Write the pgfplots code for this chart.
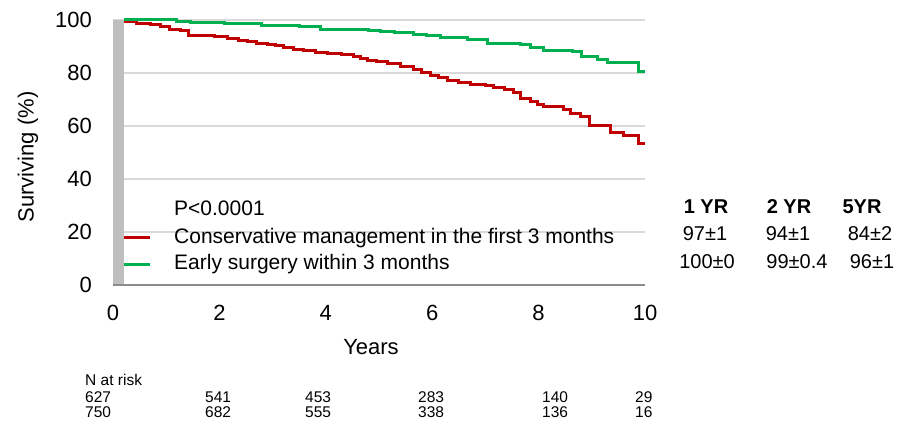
\documentclass[border=0pt]{standalone}
\usepackage{pgfplots}
\pgfplotsset{compat=1.18}
\usepackage{fontspec}
\setmainfont{Liberation Sans}
\definecolor{cRed}{HTML}{C00000}
\definecolor{cGreen}{HTML}{00B050}
\definecolor{gridGray}{HTML}{D9D9D9}
\definecolor{barGray}{HTML}{BFBFBF}
\definecolor{axGray}{HTML}{8C8C8C}
\newcommand{\fs}[1]{\fontsize{#1}{#1}\selectfont}
\begin{document}
\begin{tikzpicture}
\path[use as bounding box] (-113bp,-139bp) rectangle (788bp,285bp);
\begin{axis}[
  at={(0,0)}, anchor=south west,
  scale only axis, width=532bp, height=265bp,
  xmin=0, xmax=10, ymin=0, ymax=100,
  xtick={0,2,4,6,8,10}, ytick={0,20,40,60,80,100},
  major tick length=0pt,
  axis line style={draw=none},
  ymajorgrids, grid style={gridGray, line width=1.5bp},
  /pgf/number format/assume math mode=true,
  ticklabel style={font=\fs{22bp}, inner sep=0pt},
  xticklabel style={anchor=north, yshift=-20bp},
  yticklabel style={anchor=east, xshift=-21bp},
  clip=false,
]
\fill[barGray] (axis cs:0,0) rectangle (axis cs:0.21,100);
\draw[axGray, line width=1.5bp] (axis cs:0,0) -- (axis cs:10,0);
\addplot[const plot, cRed, line width=3bp] coordinates {
(0.21,99.4) (0.45,98.8) (0.7,98.2) (0.9,97.7) (1.07,96.6) (1.26,95.9) (1.41,94.3)
(1.9,93.8) (2.15,93.1) (2.35,92.4) (2.52,91.8) (2.7,91.3) (2.9,90.8) (3.05,90.2)
(3.2,89.7) (3.4,89.0) (3.58,88.4) (3.8,87.9) (4.03,87.4) (4.3,86.9) (4.52,86.4)
(4.65,85.6) (4.78,84.8) (4.95,84.2) (5.16,83.6) (5.4,82.5) (5.65,81.3) (5.8,80.2)
(5.97,79.2) (6.12,78.2) (6.29,77.3) (6.5,76.5) (6.72,75.8) (7.0,75.2) (7.16,74.7)
(7.35,73.8) (7.53,72.8) (7.66,70.3) (7.85,69.4) (7.98,68.3) (8.1,67.2) (8.47,66.2)
(8.6,64.6) (8.79,63.4) (8.95,60.2) (9.36,57.7) (9.6,56.4) (9.87,53.3) (10.0,53.3)
};
\addplot[const plot, cGreen, line width=3bp] coordinates {
(0.21,100) (1.2,99.6) (1.45,99.1) (2.1,98.6) (2.8,98.1) (3.5,97.5) (3.9,96.4)
(4.8,95.9) (5.03,95.6) (5.3,95.2) (5.65,94.7) (5.9,94.0) (6.15,93.4) (6.66,92.7)
(7.04,91.2) (7.66,90.8) (7.85,89.7) (8.1,88.6) (8.64,88.3) (8.8,86.4) (9.11,85.1)
(9.3,83.8) (9.87,80.4) (10.0,80.4)
};
\end{axis}
% axis titles
\node[rotate=90, font=\fs{22bp}] at (-85bp,128bp) {Surviving (\%)};
\node[font=\fs{22bp}] at (258bp,-62bp) {Years};
% legend
\draw[gridGray, line width=1.5bp] (11bp,53.3bp) -- (50bp,53.3bp);
\draw[cRed, line width=2.8bp] (11bp,47.3bp) -- (37bp,47.3bp);
\draw[cGreen, line width=2.8bp] (11bp,20.7bp) -- (37bp,20.7bp);
\node[anchor=west, inner sep=0pt, font=\fs{21bp}] at (61bp,77bp) {P<0.0001};
\node[anchor=west, inner sep=0pt, font=\fs{21bp}] at (61bp,47bp) {Conservative management in the first 3 months};
\node[anchor=west, inner sep=0pt, font=\fs{21bp}] at (61bp,21bp) {Early surgery within 3 months};
% survival table
\node[font=\fs{20bp}\bfseries] at (593bp,78bp) {1 YR};
\node[font=\fs{20bp}\bfseries] at (676bp,78bp) {2 YR};
\node[font=\fs{20bp}\bfseries] at (749bp,78bp) {5YR};
\node[font=\fs{20bp}] at (592bp,51bp) {97±1};
\node[font=\fs{20bp}] at (675bp,51bp) {94±1};
\node[font=\fs{20bp}] at (757bp,51bp) {84±2};
\node[font=\fs{20bp}] at (594bp,23bp) {100±0};
\node[font=\fs{20bp}] at (684bp,23bp) {99±0.4};
\node[font=\fs{20bp}] at (759bp,23bp) {96±1};
% N at risk
\node[anchor=west, inner sep=0pt, font=\fs{15.5bp}] at (-28bp,-95bp) {N at risk};
\foreach \x/\a/\b in {-28/627/750, 92/541/682, 192/453/555, 305/283/338, 429/140/136, 522/29/16}{
  \node[anchor=west, inner sep=0pt, font=\fs{15.5bp}] at (\x bp,-112bp) {\a};
  \node[anchor=west, inner sep=0pt, font=\fs{15.5bp}] at (\x bp,-127bp) {\b};
}
\end{tikzpicture}
\end{document}
